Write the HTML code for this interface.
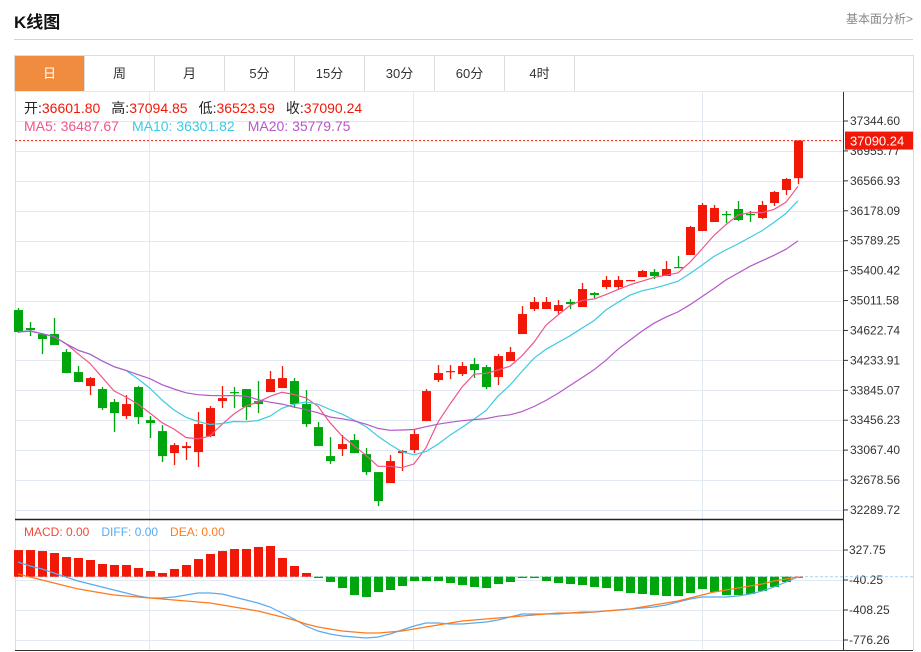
<!DOCTYPE html>
<html><head><meta charset="utf-8">
<style>
body{margin:0;background:#fff;width:921px;height:652px;overflow:hidden;font-family:"Liberation Sans","Noto Sans CJK SC",sans-serif;}
.title{position:absolute;left:14px;top:8px;font-size:17px;font-weight:bold;color:#111;}
.more{position:absolute;right:8px;top:10px;font-size:12px;color:#888;}
.hr{position:absolute;left:14px;top:39px;width:899px;height:1px;background:#d3d3d3;}
.tabs{position:absolute;left:14px;top:55px;width:898px;height:35px;border:1px solid #ddd;display:flex;}
.tab{width:69px;border-right:1px solid #ddd;text-align:center;line-height:35px;font-size:13px;color:#333;}
.tab.on{background:#f08c40;color:#fff;}
svg{position:absolute;left:0;top:0;}
</style></head><body>
<div class="title">K线图</div>
<div class="more">基本面分析&gt;</div>
<div class="hr"></div>
<div class="tabs">
<div class="tab on">日</div>
<div class="tab">周</div>
<div class="tab">月</div>
<div class="tab">5分</div>
<div class="tab">15分</div>
<div class="tab">30分</div>
<div class="tab">60分</div>
<div class="tab">4时</div>
</div>
<svg id="c" width="921" height="652"></svg>
<script>
const opens=[34888,34654,34576,34576,34342,34082,33900,33861,33692,33510,33887,33458,33315,33029,33094,33042,33250,33705,33822,33861,33705,33822,33874,33965,33666,33367,32990,33081,33198,33016,32782,32639,33029,33068,33445,33978,34082,34056,34186,34147,34017,34225,34576,34901,34901,34875,34992,34927,35109,35187,35187,35265,35317,35382,35330,35447,35603,35915,36032,36136,36201,36136,36084,36279,36448,36601.80];
const closes=[34602,34628,34511,34433,34069,33952,34004,33614,33549,33666,33497,33419,32990,33133,33120,33406,33614,33744,33809,33627,33666,33991,34004,33666,33406,33120,32925,33146,33029,32782,32405,32925,33055,33276,33835,34069,34095,34160,34108,33887,34290,34342,34836,34992,34992,34953,34966,35161,35083,35278,35278,35278,35395,35330,35421,35434,35967,36253,36214,36123,36058,36123,36253,36422,36591,37090.24];
const highs=[34914,34732,34589,34784,34381,34160,34017,33887,33731,33783,33900,33510,33393,33159,33172,33562,33640,33900,33887,33861,33965,34095,34160,34004,33848,33432,33237,33263,33276,33094,32782,33003,33068,33341,33861,34173,34173,34212,34264,34173,34316,34407,34940,35057,35057,35018,35031,35239,35122,35330,35330,35278,35408,35421,35525,35590,35980,36279,36253,36175,36305,36175,36305,36435,36604,37094.85];
const lows=[34589,34550,34316,34433,34069,33952,33783,33588,33302,33471,33406,33224,32912,32873,32938,32847,33237,33614,33614,33458,33549,33822,33874,33614,33367,33120,32886,32990,33029,32743,32340,32639,32795,33029,33445,33952,33991,34030,34004,33861,33913,34225,34576,34875,34901,34836,34901,34927,35044,35161,35161,35265,35317,35291,35330,35434,35603,35915,36032,36019,36045,36032,36071,36240,36383,36523.59];
const macdHist=[327,327,315,291,242,230,205,156,144,144,107,70,46,95,144,217,279,315,340,340,365,377,230,132,46,-16,-65,-139,-225,-249,-188,-163,-114,-53,-53,-53,-77,-102,-126,-139,-90,-65,-16,-16,-53,-77,-90,-102,-126,-139,-176,-200,-212,-225,-237,-237,-200,-151,-188,-225,-225,-212,-176,-126,-65,0];
const diffVals=[181,132,95,46,-3,-52,-89,-126,-163,-200,-236,-261,-261,-249,-224,-200,-200,-212,-249,-285,-322,-371,-445,-519,-604,-666,-703,-727,-739,-752,-739,-703,-654,-604,-568,-568,-580,-580,-568,-555,-531,-494,-457,-457,-457,-457,-445,-445,-433,-420,-408,-396,-384,-371,-347,-310,-273,-249,-249,-249,-236,-212,-175,-126,-65,-3];
const deaVals=[34,-3,-40,-77,-114,-150,-175,-200,-224,-236,-249,-261,-273,-285,-298,-310,-322,-347,-371,-396,-420,-457,-494,-531,-580,-617,-641,-666,-678,-690,-690,-678,-666,-641,-617,-592,-568,-543,-531,-519,-506,-494,-482,-469,-457,-445,-445,-433,-433,-420,-408,-396,-371,-347,-322,-298,-261,-224,-187,-163,-138,-114,-89,-52,-28,-3];
const priceTicks=[37344.60,36955.77,36566.93,36178.09,35789.25,35400.42,35011.58,34622.74,34233.91,33845.07,33456.23,33067.40,32678.56,32289.72];
const macdTicks=[327.75,-40.25,-408.25,-776.26];

const svg=document.getElementById('c');
const NS='http://www.w3.org/2000/svg';
function mk(t,a,p){const e=document.createElementNS(NS,t);for(const k in a)e.setAttribute(k,a[k]);(p||svg).appendChild(e);return e;}
const L=15,R=843;
const xAt=i=>18+12*i;
const yP=p=>121+(37344.60-p)*(29.92/388.84);
const yM=v=>580-(v+40.25)*(30/368);
const RED='#f21808',GRN='#00a60e';

const grid=mk('g',{});


mk('line',{x1:L,x2:R,y1:91.5,y2:91.5,stroke:'#e2e9f1'},grid);
priceTicks.forEach(t=>{const y=Math.round(yP(t))+.5;mk('line',{x1:L,x2:R,y1:y,y2:y,stroke:'#e2e9f1'},grid);});
macdTicks.forEach(t=>{const y=Math.round(yM(t))+.5;mk('line',{x1:L,x2:R,y1:y,y2:y,stroke:'#e2e9f1'},grid);});
[149.5,413.5,702.5].forEach(x=>mk('line',{x1:x,x2:x,y1:92,y2:650,stroke:'#e2e9f1'},grid));
mk('line',{x1:15.5,x2:15.5,y1:92,y2:650,stroke:'#ddd'});
mk('line',{x1:913.5,x2:913.5,y1:92,y2:650,stroke:'#ddd'});
mk('line',{x1:R+.5,x2:R+.5,y1:92,y2:650,stroke:'#333'});
mk('line',{x1:L,x2:R,y1:519.5,y2:519.5,stroke:'#222',"stroke-width":1.5});
mk('line',{x1:L,x2:913,y1:650.5,y2:650.5,stroke:'#333'});

priceTicks.forEach(t=>{const y=yP(t);
 mk('line',{x1:R,x2:R+5,y1:y,y2:y,stroke:'#333'});
 const tx=mk('text',{x:850,y:y+4,"font-size":12,fill:'#333'});tx.textContent=t.toFixed(2);
 
 
});
macdTicks.forEach(t=>{const y=yM(t);
 mk('line',{x1:R,x2:R+5,y1:y,y2:y,stroke:'#333'});
 const tx=mk('text',{x:849,y:y+4,"font-size":12,fill:'#333'});tx.textContent=t.toFixed(2);
 
 
});

const n=closes.length;
for(let i=0;i<n;i++){
 const up=closes[i]>=opens[i];const col=up?RED:GRN;const x=xAt(i);
 const g=mk('g',{});
 
 
 mk('line',{x1:x+.5,x2:x+.5,y1:yP(highs[i]),y2:yP(lows[i]),stroke:col,"stroke-width":1.3},g);
 const t=yP(Math.max(opens[i],closes[i])),b=yP(Math.min(opens[i],closes[i]));
 mk('rect',{x:x-4,y:t,width:9,height:Math.max(1.2,b-t),fill:col},g);
}
function ma(k){return closes.map((c,i)=>{const s=closes.slice(Math.max(0,i-k+1),i+1);return s.reduce((a,b)=>a+b,0)/s.length;});}
[[5,'#f0568a','ma5-line'],[10,'#3ccbe2','ma10-line'],[20,'#b557c8','ma20-line']].forEach(([k,c,nm])=>{
 const d=ma(k).map((v,i)=>(i?'L':'M')+xAt(i)+','+yP(v).toFixed(1)).join('');
 const p=mk('path',{d:d,fill:'none',stroke:c,"stroke-width":1.2});
 
 
});
const ly=yP(closes[n-1]);
mk('line',{x1:L,x2:R,y1:ly,y2:ly,stroke:RED,"stroke-dasharray":'2,2'});
const lb=mk('rect',{x:845,y:ly-9,width:68,height:18,fill:RED});


const lt=mk('text',{x:850,y:ly+5,"font-size":13,fill:'#fff'});lt.textContent=closes[n-1].toFixed(2);

const z=yM(0);
mk('line',{x1:L,x2:913,y1:z,y2:z,stroke:'#9fd3ee',"stroke-dasharray":'3,2'});
macdHist.forEach((v,i)=>{const y=yM(v);const r=mk('rect',{x:xAt(i)-4,y:Math.min(y,z),width:9,height:Math.max(1,Math.abs(y-z)),fill:v>=0?RED:GRN});
 
 
});
[[diffVals,'#5aaaf0','diff-line'],[deaVals,'#ff7a1c','dea-line']].forEach(([arr,c,nm])=>{
 const d=arr.map((v,i)=>(i?'L':'M')+xAt(i)+','+yM(v).toFixed(1)).join('');
 const p=mk('path',{d:d,fill:'none',stroke:c,"stroke-width":1.2});
 
 
});
</script>
<svg width="921" height="652" style="pointer-events:none">
<text x="24" y="113" font-size="14"><tspan fill="#222">开:</tspan><tspan fill="#f21808">36601.80</tspan><tspan fill="#222" dx="11">高:</tspan><tspan fill="#f21808">37094.85</tspan><tspan fill="#222" dx="11">低:</tspan><tspan fill="#f21808">36523.59</tspan><tspan fill="#222" dx="11">收:</tspan><tspan fill="#f21808">37090.24</tspan></text>
<text x="24" y="131" font-size="14"><tspan fill="#f0568a">MA5: 36487.67</tspan><tspan fill="#3ccbe2" dx="13">MA10: 36301.82</tspan><tspan fill="#b557c8" dx="13">MA20: 35779.75</tspan></text>
<text x="24" y="536" font-size="12"><tspan fill="#f04a3a">MACD: 0.00</tspan><tspan fill="#5aaaf0" dx="12">DIFF: 0.00</tspan><tspan fill="#ff7a1c" dx="12">DEA: 0.00</tspan></text>
</svg>
</body></html>
